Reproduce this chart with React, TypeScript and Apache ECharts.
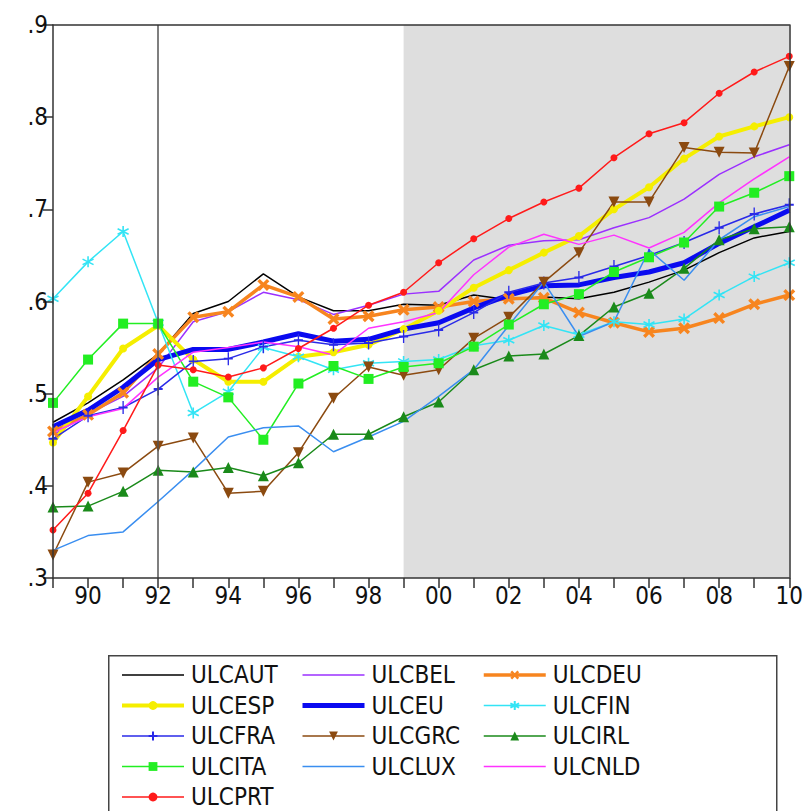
import React, { useEffect, useRef } from 'react';
import * as echarts from 'echarts';

// Unit labour cost indices, 1989–2010
const years = [
  '1989', '1990', '1991', '1992', '1993', '1994', '1995', '1996', '1997', '1998', '1999',
  '2000', '2001', '2002', '2003', '2004', '2005', '2006', '2007', '2008', '2009', '2010',
];

const ulcAUT = [0.469, 0.49, 0.515, 0.543, 0.587, 0.6, 0.63, 0.605, 0.59, 0.59, 0.597, 0.596, 0.607, 0.602, 0.605, 0.603, 0.61, 0.621, 0.634, 0.653, 0.669, 0.676];
const ulcBEL = [0.455, 0.478, 0.497, 0.528, 0.578, 0.589, 0.61, 0.602, 0.586, 0.596, 0.608, 0.611, 0.645, 0.661, 0.666, 0.667, 0.68, 0.691, 0.711, 0.738, 0.757, 0.77];
const ulcDEU = [0.459, 0.477, 0.501, 0.543, 0.583, 0.589, 0.618, 0.605, 0.581, 0.584, 0.591, 0.594, 0.6, 0.603, 0.604, 0.588, 0.577, 0.567, 0.571, 0.582, 0.597, 0.607];
const ulcESP = [0.447, 0.497, 0.549, 0.574, 0.537, 0.513, 0.513, 0.54, 0.545, 0.553, 0.57, 0.59, 0.615, 0.634, 0.653, 0.671, 0.7, 0.724, 0.755, 0.779, 0.79, 0.8];
const ulcEU = [0.464, 0.482, 0.507, 0.537, 0.548, 0.548, 0.556, 0.565, 0.557, 0.559, 0.57, 0.577, 0.593, 0.607, 0.617, 0.618, 0.626, 0.632, 0.642, 0.663, 0.681, 0.699];
const ulcFIN = [0.603, 0.643, 0.676, 0.577, 0.479, 0.502, 0.55, 0.54, 0.526, 0.533, 0.535, 0.537, 0.552, 0.558, 0.574, 0.564, 0.578, 0.575, 0.581, 0.607, 0.627, 0.642];
const ulcFRA = [0.451, 0.476, 0.485, 0.505, 0.535, 0.538, 0.551, 0.558, 0.553, 0.555, 0.562, 0.569, 0.588, 0.61, 0.62, 0.626, 0.638, 0.65, 0.664, 0.68, 0.695, 0.705];
const ulcGRC = [0.325, 0.404, 0.414, 0.443, 0.452, 0.392, 0.394, 0.436, 0.495, 0.529, 0.52, 0.526, 0.56, 0.583, 0.621, 0.653, 0.708, 0.708, 0.767, 0.762, 0.761, 0.855];
const ulcIRL = [0.377, 0.378, 0.394, 0.417, 0.415, 0.42, 0.411, 0.425, 0.456, 0.456, 0.475, 0.491, 0.526, 0.541, 0.543, 0.563, 0.594, 0.609, 0.636, 0.667, 0.679, 0.681];
const ulcITA = [0.49, 0.537, 0.576, 0.576, 0.513, 0.496, 0.45, 0.511, 0.53, 0.516, 0.529, 0.533, 0.551, 0.575, 0.597, 0.608, 0.632, 0.648, 0.664, 0.703, 0.718, 0.736];
const ulcLUX = [0.33, 0.346, 0.35, 0.383, 0.417, 0.453, 0.463, 0.465, 0.437, 0.453, 0.47, 0.497, 0.526, 0.574, 0.621, 0.562, 0.578, 0.656, 0.623, 0.667, 0.692, 0.703];
const ulcNLD = [0.458, 0.475, 0.484, 0.518, 0.545, 0.55, 0.556, 0.551, 0.542, 0.571, 0.578, 0.588, 0.629, 0.659, 0.673, 0.662, 0.672, 0.658, 0.675, 0.707, 0.733, 0.757];
const ulcPRT = [0.352, 0.392, 0.46, 0.531, 0.526, 0.518, 0.528, 0.549, 0.571, 0.596, 0.61, 0.642, 0.668, 0.69, 0.708, 0.723, 0.756, 0.782, 0.794, 0.826, 0.849, 0.866];

// Shaded period and reference year
const shadeStart = '1999';
const shadeEnd = '2010';
const refYear = '1992';

// Legend columns
const legendCol1 = ['ULCAUT', 'ULCESP', 'ULCFRA', 'ULCITA', 'ULCPRT'];
const legendCol2 = ['ULCBEL', 'ULCEU', 'ULCGRC', 'ULCLUX'];
const legendCol3 = ['ULCDEU', 'ULCFIN', 'ULCIRL', 'ULCNLD'];
// Series drawn as plain lines (no marker in the legend either)
const plainSeries = ['ULCAUT', 'ULCBEL', 'ULCEU', 'ULCLUX', 'ULCNLD'];
// Line widths
const widths: Record<string, number> = {
  ULCAUT: 1.5, ULCBEL: 1.5, ULCDEU: 3.5, ULCESP: 4, ULCEU: 5, ULCFIN: 1.5, ULCFRA: 1.5,
  ULCGRC: 1.5, ULCIRL: 1.5, ULCITA: 1.5, ULCLUX: 1.5, ULCNLD: 1.5, ULCPRT: 1.5,
};

const FONT = "'DejaVu Sans Condensed', 'Liberation Sans', Arial, sans-serif";
const AXIS = '#333333';

// Marker shapes drawn as paths
const SYM_X = 'path://M0,2L2,0L5,3L8,0L10,2L7,5L10,8L8,10L5,7L2,10L0,8L3,5Z';
const SYM_STAR = 'path://M5,0L5,10M0.7,2.5L9.3,7.5M0.7,7.5L9.3,2.5';
const SYM_PLUS = 'path://M5,0L5,14M0,7L10,7';

type SerOpt = {
  symbol?: string;
  size?: number | number[];
  rotate?: number;
  stroke?: boolean;
};

function line(name: string, data: number[], color: string, o: SerOpt = {}) {
  const symbol = o.symbol ?? 'none';
  return {
    name,
    type: 'line',
    data,
    symbol,
    symbolSize: o.size ?? 8,
    symbolRotate: o.rotate ?? 0,
    showSymbol: symbol !== 'none',
    silent: true,
    z: 3,
    lineStyle: { color, width: widths[name] },
    itemStyle: o.stroke
      ? { color: 'none', borderColor: color, borderWidth: 1.6 }
      : { color, borderWidth: 0 },
    emphasis: { disabled: true },
  };
}

function legendItems(names: string[]) {
  return names.map((n) => ({
    name: n,
    lineStyle: { width: widths[n] },
    ...(plainSeries.includes(n) ? { itemStyle: { opacity: 0 } } : {}),
  }));
}

export default function App() {
  const ref = useRef<HTMLDivElement>(null);

  useEffect(() => {
    const chart = echarts.init(ref.current!, null, { renderer: 'svg' });

    const legendBase = {
      orient: 'vertical',
      top: 663,
      height: 170,
      padding: 0,
      itemWidth: 62,
      itemHeight: 11,
      itemGap: 6.5,
      selectedMode: false,
      textStyle: {
        fontFamily: FONT,
        fontSize: 24,
        lineHeight: 24,
        color: '#111',
        padding: [0, 0, 0, 2],
      },
    };

    chart.setOption({
      animation: false,
      backgroundColor: '#ffffff',
      grid: { left: 53, right: 15, top: 25, bottom: 233, containLabel: false },
      xAxis: [
        {
          type: 'category',
          data: years,
          boundaryGap: false,
          z: 10,
          axisLine: { show: true, lineStyle: { color: AXIS, width: 1.5 } },
          axisTick: { show: true, interval: 0, length: 10, lineStyle: { color: AXIS, width: 1.5 } },
          axisLabel: {
            interval: (i: number) => i % 2 === 1,
            formatter: (v: string) => v.slice(2),
            fontFamily: FONT,
            fontSize: 24,
            color: '#111',
            margin: 6,
          },
          splitLine: { show: false },
        },
        {
          type: 'category',
          data: years,
          boundaryGap: false,
          position: 'top',
          z: 10,
          axisLine: { show: true, lineStyle: { color: AXIS, width: 1.5 } },
          axisTick: { show: false },
          axisLabel: { show: false },
          splitLine: { show: false },
        },
      ],
      yAxis: [
        {
          type: 'value',
          min: 0.3,
          max: 0.9,
          interval: 0.1,
          z: 10,
          axisLine: { show: true, lineStyle: { color: AXIS, width: 1.5 } },
          axisTick: { show: true, length: 10, lineStyle: { color: AXIS, width: 1.5 } },
          axisLabel: {
            formatter: (v: number) => v.toFixed(1).replace(/^0/, ''),
            fontFamily: FONT,
            fontSize: 24,
            color: '#111',
            margin: 5,
          },
          splitLine: { show: false },
        },
        {
          type: 'value',
          min: 0.3,
          max: 0.9,
          interval: 0.1,
          position: 'right',
          z: 10,
          axisLine: { show: true, lineStyle: { color: AXIS, width: 1.5 } },
          axisTick: { show: false },
          axisLabel: { show: false },
          splitLine: { show: false },
        },
      ],
      legend: [
        { ...legendBase, left: 120, data: legendItems(legendCol1) },
        { ...legendBase, left: 300, data: legendItems(legendCol2) },
        { ...legendBase, left: 482, data: legendItems(legendCol3) },
      ],
      graphic: [
        {
          type: 'rect',
          left: 108,
          top: 655,
          z: -10,
          shape: { width: 668, height: 170 },
          style: { fill: '#ffffff', stroke: '#444', lineWidth: 1.5 },
        },
      ],
      series: [
        {
          type: 'line',
          data: [],
          silent: true,
          z: 1,
          markArea: {
            silent: true,
            itemStyle: { color: '#dedede' },
            data: [[{ xAxis: shadeStart }, { xAxis: shadeEnd }]],
          },
          markLine: {
            silent: true,
            symbol: ['none', 'none'],
            label: { show: false },
            lineStyle: { color: '#555', width: 1.5, type: 'solid' },
            data: [{ xAxis: refYear }],
          },
        },
        line('ULCAUT', ulcAUT, '#000000'),
        line('ULCBEL', ulcBEL, '#9b30ff'),
        line('ULCDEU', ulcDEU, '#f7851f', { symbol: SYM_X, size: 12 }),
        line('ULCESP', ulcESP, '#f5ee00', { symbol: 'circle', size: 8 }),
        line('ULCEU', ulcEU, '#0a0af0'),
        line('ULCFIN', ulcFIN, '#33e4f5', { symbol: SYM_STAR, size: 11, stroke: true }),
        line('ULCFRA', ulcFRA, '#2a2ae8', { symbol: SYM_PLUS, size: [9, 13], stroke: true }),
        line('ULCGRC', ulcGRC, '#8b4a10', { symbol: 'triangle', size: 11, rotate: 180 }),
        line('ULCIRL', ulcIRL, '#1a8a1a', { symbol: 'triangle', size: 11 }),
        line('ULCITA', ulcITA, '#22ee22', { symbol: 'rect', size: 10 }),
        line('ULCLUX', ulcLUX, '#3a8ef0'),
        line('ULCNLD', ulcNLD, '#ff33ff'),
        line('ULCPRT', ulcPRT, '#ff1a1a', { symbol: 'circle', size: 7 }),
      ],
    });

    return () => chart.dispose();
  }, []);

  return (
    <div
      ref={ref}
      style={{ position: 'absolute', left: 0, top: 0, width: 806, height: 811, background: '#fff' }}
    />
  );
}
